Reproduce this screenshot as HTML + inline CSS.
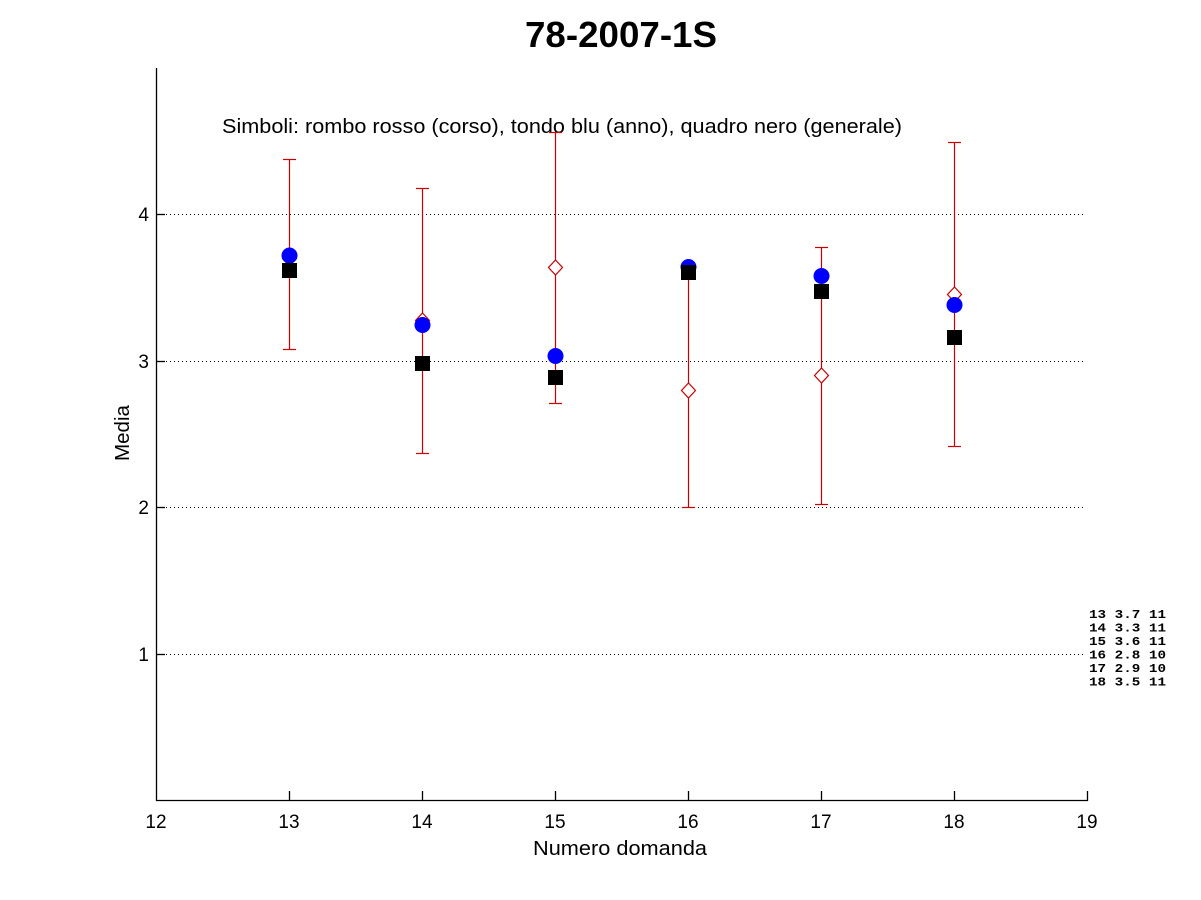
<!DOCTYPE html>
<html><head><meta charset="utf-8"><style>
html,body{margin:0;padding:0;background:#fff;}
svg{display:block;}
text{font-family:"Liberation Sans",Arial,sans-serif;fill:#000;}
</style></head><body>
<svg width="1201" height="900" viewBox="0 0 1201 900" xmlns="http://www.w3.org/2000/svg">
<rect width="1201" height="900" fill="#fff"/>
<!-- title -->
<text x="621" y="47" font-size="36" font-weight="bold" text-anchor="middle" textLength="192" lengthAdjust="spacingAndGlyphs">78-2007-1S</text>
<!-- gridlines -->
<g stroke="#000" stroke-width="1" stroke-dasharray="1 3">
<line x1="166" y1="214.5" x2="1086" y2="214.5"/>
<line x1="166" y1="361.5" x2="1086" y2="361.5"/>
<line x1="166" y1="507.5" x2="1086" y2="507.5"/>
<line x1="166" y1="654.5" x2="1086" y2="654.5"/>
</g>
<!-- axes -->
<g stroke="#000" stroke-width="1.3" fill="none">
<line x1="156.5" y1="68" x2="156.5" y2="801"/>
<line x1="156" y1="800.5" x2="1088" y2="800.5"/>
<line x1="156" y1="214.5" x2="165" y2="214.5"/>
<line x1="156" y1="361.5" x2="165" y2="361.5"/>
<line x1="156" y1="507.5" x2="165" y2="507.5"/>
<line x1="156" y1="654.5" x2="165" y2="654.5"/>
<line x1="289.5" y1="791" x2="289.5" y2="800"/>
<line x1="422.5" y1="791" x2="422.5" y2="800"/>
<line x1="555.5" y1="791" x2="555.5" y2="800"/>
<line x1="688.5" y1="791" x2="688.5" y2="800"/>
<line x1="821.5" y1="791" x2="821.5" y2="800"/>
<line x1="954.5" y1="791" x2="954.5" y2="800"/>
<line x1="1087.5" y1="791" x2="1087.5" y2="801"/>
</g>
<!-- y tick labels -->
<g font-size="19" text-anchor="end">
<text x="149" y="221">4</text>
<text x="149" y="368">3</text>
<text x="149" y="514">2</text>
<text x="149" y="661">1</text>
</g>
<!-- x tick labels -->
<g font-size="19" text-anchor="middle">
<text x="156" y="828">12</text>
<text x="289" y="828">13</text>
<text x="422" y="828">14</text>
<text x="555" y="828">15</text>
<text x="688" y="828">16</text>
<text x="821" y="828">17</text>
<text x="954" y="828">18</text>
<text x="1087" y="828">19</text>
</g>
<text x="620" y="855" font-size="20" text-anchor="middle" textLength="174" lengthAdjust="spacingAndGlyphs">Numero domanda</text>
<text transform="translate(129,433) rotate(-90)" font-size="20" text-anchor="middle" textLength="56" lengthAdjust="spacingAndGlyphs">Media</text>
<text x="222" y="133" font-size="20" textLength="680" lengthAdjust="spacingAndGlyphs">Simboli: rombo rosso (corso), tondo blu (anno), quadro nero (generale)</text>

<!-- error bars -->
<g stroke="#c80000" stroke-width="1.2" fill="none">
<line x1="289.5" y1="159" x2="289.5" y2="349"/><line x1="283" y1="159.5" x2="296" y2="159.5"/><line x1="283" y1="349.5" x2="296" y2="349.5"/>
<line x1="422.5" y1="188" x2="422.5" y2="453"/><line x1="416" y1="188.5" x2="429" y2="188.5"/><line x1="416" y1="453.5" x2="429" y2="453.5"/>
<line x1="555.5" y1="132" x2="555.5" y2="403"/><line x1="549" y1="132.5" x2="562" y2="132.5"/><line x1="549" y1="403.5" x2="562" y2="403.5"/>
<line x1="688.5" y1="272" x2="688.5" y2="507"/><line x1="682" y1="507.5" x2="695" y2="507.5"/>
<line x1="821.5" y1="247" x2="821.5" y2="504"/><line x1="815" y1="247.5" x2="828" y2="247.5"/><line x1="815" y1="504.5" x2="828" y2="504.5"/>
<line x1="954.5" y1="142" x2="954.5" y2="446"/><line x1="948" y1="142.5" x2="961" y2="142.5"/><line x1="948" y1="446.5" x2="961" y2="446.5"/>
<polygon points="289.5,251 296.5,258.5 289.5,266 282.5,258.5" fill="#fff"/>
<polygon points="422.5,313 429.5,320.5 422.5,328 415.5,320.5" fill="#fff"/>
<polygon points="555.5,260 562.5,267.5 555.5,275 548.5,267.5" fill="#fff"/>
<polygon points="688.5,383 695.5,390.5 688.5,398 681.5,390.5" fill="#fff"/>
<polygon points="821.5,368 828.5,375.5 821.5,383 814.5,375.5" fill="#fff"/>
<polygon points="954.5,287 961.5,294.5 954.5,302 947.5,294.5" fill="#fff"/>
</g>
<!-- blue circles -->
<g fill="#0000ff">
<circle cx="289.5" cy="255.5" r="8"/>
<circle cx="422.5" cy="325" r="8"/>
<circle cx="555.5" cy="356" r="8"/>
<circle cx="688.5" cy="267" r="8"/>
<circle cx="821.5" cy="276" r="8"/>
<circle cx="954.5" cy="305" r="8"/>
</g>
<!-- black squares -->
<g fill="#000">
<rect x="282" y="263" width="15" height="15"/>
<rect x="415" y="356" width="15" height="15"/>
<rect x="548" y="370" width="15" height="15"/>
<rect x="681" y="265" width="15" height="15"/>
<rect x="814" y="284" width="15" height="15"/>
<rect x="947" y="330" width="15" height="15"/>
</g>
<!-- right text -->
<g font-size="12" font-weight="bold" style="font-family:'Liberation Mono',monospace;">
<text x="1089" y="618" textLength="77" lengthAdjust="spacingAndGlyphs" style="font-family:'Liberation Mono',monospace;">13 3.7 11</text>
<text x="1089" y="631.5" textLength="77" lengthAdjust="spacingAndGlyphs" style="font-family:'Liberation Mono',monospace;">14 3.3 11</text>
<text x="1089" y="645" textLength="77" lengthAdjust="spacingAndGlyphs" style="font-family:'Liberation Mono',monospace;">15 3.6 11</text>
<text x="1089" y="658.5" textLength="77" lengthAdjust="spacingAndGlyphs" style="font-family:'Liberation Mono',monospace;">16 2.8 10</text>
<text x="1089" y="672" textLength="77" lengthAdjust="spacingAndGlyphs" style="font-family:'Liberation Mono',monospace;">17 2.9 10</text>
<text x="1089" y="685.5" textLength="77" lengthAdjust="spacingAndGlyphs" style="font-family:'Liberation Mono',monospace;">18 3.5 11</text>
</g>
</svg>
</body></html>
